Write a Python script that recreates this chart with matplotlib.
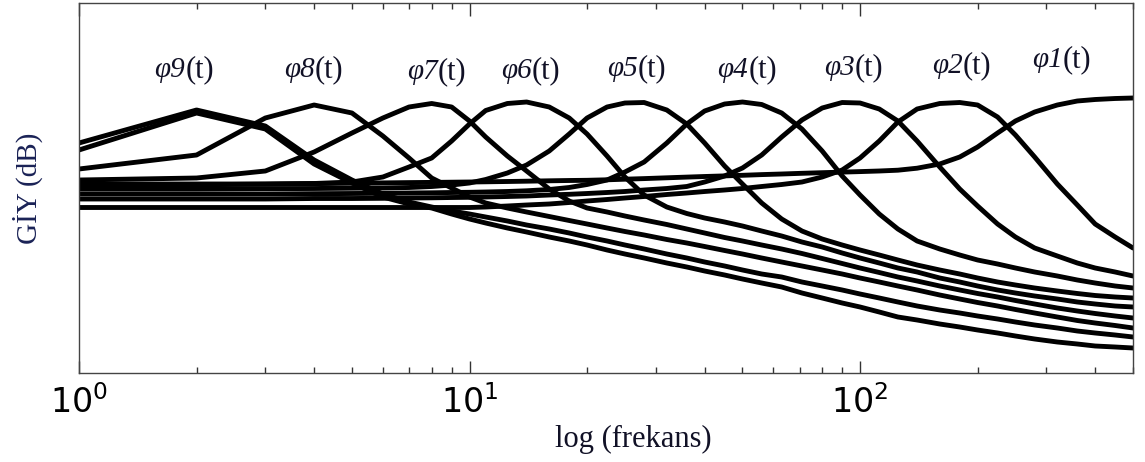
import matplotlib
matplotlib.use("Agg")
import matplotlib.pyplot as plt
from matplotlib.ticker import LogLocator, NullFormatter

plt.rcParams['mathtext.fontset'] = 'custom'
plt.rcParams['mathtext.rm'] = 'Liberation Sans'
plt.rcParams['mathtext.it'] = 'Liberation Sans:italic'
plt.rcParams['mathtext.bf'] = 'Liberation Sans:bold'

# ---- data (frequency grid and GİY curves in dB) ----
freq = [1, 2, 3, 4, 5, 6, 7, 8, 9, 10,
        11, 12.5, 14, 16, 18, 20, 22.5, 25, 28, 32,
        36, 40, 45, 50, 56, 63, 71, 80, 90, 100,
        112, 125, 140, 160, 180, 200, 225, 250, 280, 320,
        360, 400, 450, 500]

phi1 = [-18.6, -18.48, -18.41, -18.36, -18.32, -18.29, -18.26, -18.24, -18.22, -18.2,
        -18.18, -18.15, -18.12, -18.08, -18.05, -18.03, -17.98, -17.92, -17.86, -17.78,
        -17.71, -17.65, -17.59, -17.53, -17.46, -17.4, -17.33, -17.27, -17.21, -17.16,
        -17.1, -17.02, -16.82, -16.4, -15.7, -14.7, -13.3, -12.1, -11.2, -10.5,
        -10.1, -9.95, -9.85, -9.8]
phi2 = [-20.75, -20.75, -20.75, -20.75, -20.75, -20.75, -20.75, -20.75, -20.75, -20.75,
        -20.7, -20.6, -20.5, -20.4, -20.25, -20.1, -19.95, -19.8, -19.65, -19.45,
        -19.3, -19.15, -19.0, -18.85, -18.65, -18.45, -18.2, -17.7, -17.0, -15.8,
        -14.1, -12.2, -10.9, -10.35, -10.25, -10.5, -11.7, -13.5, -15.7, -18.4,
        -20.5, -22.4, -23.7, -24.8]
phi3 = [-19.9, -19.9, -19.9, -19.85, -19.85, -19.83, -19.8, -19.78, -19.75, -19.73,
        -19.7, -19.65, -19.6, -19.5, -19.43, -19.35, -19.25, -19.15, -19.0, -18.85,
        -18.65, -18.2, -17.6, -16.8, -15.5, -13.7, -12.0, -10.8, -10.25, -10.3,
        -10.9, -12.1, -14.1, -16.7, -18.9, -20.6, -22.4, -23.7, -24.8, -25.6,
        -26.3, -26.8, -27.2, -27.6]
phi4 = [-19.4, -19.4, -19.4, -19.37, -19.35, -19.33, -19.3, -19.28, -19.25, -19.23,
        -19.2, -19.15, -19.08, -18.95, -18.75, -18.45, -18.0, -17.2, -16.2, -14.3,
        -12.4, -11.1, -10.4, -10.2, -10.45, -11.3, -12.9, -15.1, -17.6, -19.5,
        -21.4, -22.9, -24.1, -24.9, -25.5, -26.0, -26.4, -26.8, -27.2, -27.6,
        -28.0, -28.3, -28.6, -28.8]
phi5 = [-18.9, -18.9, -18.87, -18.85, -18.82, -18.8, -18.75, -18.65, -18.5, -18.3,
        -17.95, -17.3, -16.5, -15.1, -13.4, -11.8, -10.7, -10.3, -10.25, -11.0,
        -12.4, -14.3, -16.6, -18.4, -20.3, -21.9, -23.1, -23.9, -24.5, -25.0,
        -25.5, -26.0, -26.5, -27.0, -27.4, -27.8, -28.2, -28.5, -28.8, -29.1,
        -29.35, -29.55, -29.7, -29.8]
phi6 = [-18.4, -18.4, -18.4, -18.35, -18.2, -17.7, -16.7, -15.8, -14.1, -12.4,
        -11.05, -10.35, -10.2, -10.7, -11.8, -13.4, -15.6, -17.7, -19.5, -20.7,
        -21.35, -21.8, -22.2, -22.6, -23.1, -23.6, -24.2, -24.7, -25.3, -25.8,
        -26.3, -26.8, -27.2, -27.8, -28.2, -28.6, -29.0, -29.3, -29.6, -29.9,
        -30.2, -30.4, -30.6, -30.7]
phi7 = [-18.0, -17.8, -17.1, -15.2, -13.3, -11.8, -10.7, -10.35, -10.7, -12.1,
        -13.7, -15.6, -17.1, -18.9, -20.1, -20.8, -21.2, -21.6, -22.0, -22.45,
        -22.9, -23.3, -23.75, -24.1, -24.5, -24.9, -25.35, -25.85, -26.35, -26.8,
        -27.25, -27.7, -28.1, -28.6, -29.0, -29.35, -29.7, -30.05, -30.4, -30.8,
        -31.1, -31.35, -31.6, -31.8]
phi8 = [-16.9, -15.5, -11.8, -10.5, -11.3, -13.6, -15.8, -17.8, -18.8, -19.7,
        -20.3, -20.8, -21.2, -21.65, -22.05, -22.4, -22.8, -23.15, -23.5, -23.95,
        -24.3, -24.65, -25.05, -25.4, -25.8, -26.2, -26.6, -27.0, -27.4, -27.8,
        -28.2, -28.6, -29.0, -29.5, -29.9, -30.25, -30.6, -30.95, -31.3, -31.7,
        -32.05, -32.3, -32.55, -32.8]
phi9a = [-14.3, -11.0, -12.6, -16.0, -18.0, -19.4, -20.2, -20.7, -21.1, -21.4,
         -21.7, -22.1, -22.5, -22.9, -23.3, -23.7, -24.1, -24.5, -24.9, -25.4,
         -25.8, -26.2, -26.6, -27.0, -27.4, -27.7, -28.2, -28.6, -29.0, -29.4,
         -29.8, -30.2, -30.6, -31.0, -31.3, -31.6, -31.9, -32.2, -32.5, -32.8,
         -33.1, -33.3, -33.5, -33.7]
phi9b = [-15.0, -11.3, -12.9, -16.4, -18.3, -19.7, -20.4, -20.8, -21.4, -21.9,
         -22.3, -22.8, -23.2, -23.7, -24.1, -24.5, -25.0, -25.4, -25.8, -26.3,
         -26.7, -27.1, -27.5, -27.9, -28.3, -28.7, -29.3, -29.8, -30.3, -30.7,
         -31.2, -31.7, -32.0, -32.4, -32.7, -33.0, -33.3, -33.6, -33.9, -34.2,
         -34.4, -34.6, -34.7, -34.8]

curves = [phi9a, phi9b, phi8, phi7, phi6, phi5, phi4, phi3, phi2, phi1]

label_idx = ['9', '8', '7', '6', '5', '4', '3', '2', '1']
label_freq = [1.87, 4.02, 8.31, 14.45, 27.0, 51.7, 97.1, 183.5, 331]
label_db = [-7.7, -7.7, -7.9, -7.8, -7.6, -7.7, -7.5, -7.3, -6.7]

# ---- figure ----
W, H = 1145, 462
fig = plt.figure(figsize=(W / 100, H / 100), dpi=100)
ax = fig.add_axes([79 / W, (H - 373) / H, (1133 - 79) / W, 370 / H])

for c in curves:
    ax.plot(freq, c, color='black', lw=3.5, solid_joinstyle='round',
            solid_capstyle='round')

ax.set_xscale('log')
ax.set_xlim(1, 500)
ax.set_ylim(-37.3, -0.3)
ax.set_yticks([])

ax.xaxis.set_major_locator(LogLocator(base=10))
ax.xaxis.set_minor_locator(LogLocator(base=10, subs=range(2, 10)))
ax.xaxis.set_minor_formatter(NullFormatter())
ax.tick_params(axis='x', which='both', direction='in', top=True, bottom=True,
               colors='#333333', labelcolor='black', labelsize=24, pad=9)
ax.tick_params(axis='x', which='major', length=9, width=1.0)
ax.tick_params(axis='x', which='minor', length=4.5, width=1.0)
for s in ax.spines.values():
    s.set_color('#444444')
    s.set_linewidth(1.0)

txt_color = '#111126'
serif = 'Liberation Serif'
for d, f, y in zip(label_idx, label_freq, label_db):
    ax.text(f, y, '\u03c6' + d, family=serif, style='italic', fontsize=21,
            ha='right', va='baseline', color=txt_color)
    ax.text(f, y, '(t)', family=serif, fontsize=22, ha='left', va='baseline',
            color=txt_color)

fig.text(28 / W, 1 - 188 / H, 'GİY (dB)', rotation=90, family=serif,
         fontsize=21, ha='center', va='center', color='#1a2256')
fig.text(633 / W, 1 - 439 / H, 'log (frekans)', family=serif, fontsize=22,
         ha='center', va='center', color=txt_color)

fig.savefig('out.png', dpi=100)
